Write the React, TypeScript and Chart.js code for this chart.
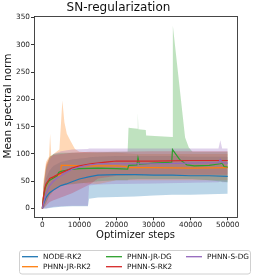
import React, { useEffect, useRef } from "react";
import { Chart, registerables } from "chart.js";

Chart.register(...registerables);

const FONT = "'DejaVu Sans', sans-serif";

// ---- NODE-RK2 (blue)
const nodeSteps = [0, 300, 700, 1000, 1500, 2000, 3000, 4000, 5000, 6500, 8000, 10000, 12500, 15000, 20000, 25000, 30000, 35000, 40000, 45000, 50000];
const nodeMean = [0, 8, 15, 20, 25, 29, 34, 38, 42, 45, 49, 54, 58, 61, 62, 62, 61, 61, 60, 60, 59];
const nodeBandSteps = [0, 300, 1000, 2000, 3000, 5000, 8000, 12300, 12600, 15000, 20000, 25000, 30000, 35000, 40000, 45000, 50000];
const nodeLow = [0, 0, 0, 1, 2, 3, 4, 4, 18, 20, 21, 22, 24, 25, 25, 26, 27];
const nodeHigh = [0, 30, 55, 70, 78, 85, 90, 93, 94, 95, 96, 96, 96, 96, 95, 95, 95];

// ---- PHNN-JR-RK2 (orange)
const jrRkSteps = [0, 300, 700, 1000, 1500, 2000, 3000, 4000, 4900, 5100, 7000, 10000, 15000, 20000, 22500, 23000, 30000, 40000, 50000];
const jrRkMean = [0, 20, 35, 42, 48, 52, 57, 60, 62, 79, 79, 78, 78, 78, 77, 75, 75, 74, 75];
const jrRkBandSteps = [0, 300, 1000, 1800, 2100, 2400, 3000, 4600, 5400, 5950, 6600, 7500, 8800, 10000, 15000, 20000, 25000, 30000, 40000, 50000];
const jrRkHigh = [0, 50, 85, 95, 137, 96, 100, 108, 198, 158, 137, 125, 109, 104, 102, 102, 100, 100, 100, 100];
const jrRkLow = [0, 0, 10, 22, 25, 26, 35, 40, 42, 44, 44, 45, 46, 47, 45, 52, 52, 52, 52, 52];

// ---- PHNN-JR-DG (green)
const jrDgSteps = [0, 300, 700, 1000, 1500, 2000, 3000, 4000, 4400, 5000, 7000, 10000, 15000, 20000, 23000, 23300, 25500, 25800, 26200, 30000, 34900, 35100, 37000, 39000, 41000, 45000, 48000, 48500, 49000, 50000];
const jrDgMean = [0, 20, 35, 42, 48, 52, 56, 60, 66, 68, 71, 73, 74, 73, 72, 79, 80, 93, 81, 83, 85, 108, 90, 80, 78, 79, 82, 83, 77, 76];
const jrDgBandSteps = [0, 300, 1000, 2000, 3000, 5000, 10000, 15000, 20000, 23000, 23250, 25600, 25750, 25900, 27900, 28000, 35000, 35200, 38500, 39500, 40500, 45000, 50000];
const jrDgHigh = [0, 40, 75, 95, 100, 102, 102, 103, 104, 104, 148, 146, 176, 145, 144, 134, 131, 335, 130, 112, 104, 104, 104];
const jrDgLow = [0, 0, 10, 25, 35, 42, 46, 50, 52, 52, 53, 54, 54, 54, 54, 54, 54, 54, 54, 54, 54, 52, 48];

// ---- PHNN-S-RK2 (red)
const sRkSteps = [0, 300, 700, 1000, 1500, 2000, 3000, 4000, 6000, 8000, 10000, 13000, 17000, 20000, 30000, 40000, 50000];
const sRkMean = [0, 22, 38, 45, 50, 55, 58, 62, 68, 74, 78, 82, 85, 87, 87, 88, 88];
const sRkBandSteps = [0, 300, 1000, 2000, 3000, 5000, 8000, 10000, 13000, 15000, 20000, 30000, 40000, 50000];
const sRkHigh = [0, 40, 80, 95, 98, 100, 102, 103, 104, 104, 104, 105, 105, 105];
const sRkLow = [0, 0, 5, 12, 15, 20, 28, 35, 45, 55, 60, 62, 62, 62];

// ---- PHNN-S-DG (purple)
const sDgSteps = [0, 300, 700, 1000, 1500, 2000, 3000, 4000, 6000, 8000, 10000, 12000, 15000, 20000, 30000, 40000, 47500, 48000, 48500, 50000];
const sDgMean = [0, 10, 20, 28, 35, 42, 50, 56, 64, 72, 76, 79, 82, 82, 82, 83, 84, 90, 84, 83];
const sDgBandSteps = [0, 300, 1000, 2000, 3000, 5000, 8000, 12300, 12600, 15000, 20000, 30000, 40000, 47500, 48000, 48500, 50000];
const sDgHigh = [0, 30, 70, 90, 100, 105, 108, 109, 110, 110, 110, 110, 110, 110, 125, 110, 110];
const sDgLow = [0, 0, 0, 2, 3, 4, 5, 5, 42, 44, 45, 46, 47, 48, 50, 48, 48];

const xTicks = [0, 10000, 20000, 30000, 40000, 50000];
const yTicks = [0, 50, 100, 150, 200, 250, 300, 350];

const series = [
  { name: "NODE-RK2", color: "#1f77b4", rgb: "31,119,180", steps: nodeSteps, mean: nodeMean, bSteps: nodeBandSteps, lo: nodeLow, hi: nodeHigh },
  { name: "PHNN-JR-RK2", color: "#ff7f0e", rgb: "255,127,14", steps: jrRkSteps, mean: jrRkMean, bSteps: jrRkBandSteps, lo: jrRkLow, hi: jrRkHigh },
  { name: "PHNN-JR-DG", color: "#2ca02c", rgb: "44,160,44", steps: jrDgSteps, mean: jrDgMean, bSteps: jrDgBandSteps, lo: jrDgLow, hi: jrDgHigh },
  { name: "PHNN-S-RK2", color: "#d62728", rgb: "214,39,40", steps: sRkSteps, mean: sRkMean, bSteps: sRkBandSteps, lo: sRkLow, hi: sRkHigh },
  { name: "PHNN-S-DG", color: "#9467bd", rgb: "148,103,189", steps: sDgSteps, mean: sDgMean, bSteps: sDgBandSteps, lo: sDgLow, hi: sDgHigh },
];

const pts = (xs: number[], ys: number[]) => xs.map((x, i) => ({ x, y: ys[i] }));

const overlay = {
  id: "overlay",
  afterDraw(chart: any) {
    const ctx = chart.ctx;
    const a = chart.chartArea;
    ctx.save();
    // frame
    ctx.strokeStyle = "#333";
    ctx.lineWidth = 0.9;
    ctx.strokeRect(Math.round(a.left) + 0.5, Math.round(a.top) + 0.5, Math.round(a.right - a.left), Math.round(a.bottom - a.top));
    // y label
    ctx.fillStyle = "#111";
    ctx.font = `10.5px ${FONT}`;
    ctx.textAlign = "center";
    ctx.textBaseline = "middle";
    ctx.translate(8, 106);
    ctx.rotate(-Math.PI / 2);
    ctx.fillText("Mean spectral norm", 0, 0);
    ctx.restore();

    // legend
    ctx.save();
    const bx = 19.5, by = 250.5, bw = 231, bh = 23.5, r = 2.5;
    ctx.beginPath();
    ctx.moveTo(bx + r, by);
    ctx.lineTo(bx + bw - r, by);
    ctx.quadraticCurveTo(bx + bw, by, bx + bw, by + r);
    ctx.lineTo(bx + bw, by + bh - r);
    ctx.quadraticCurveTo(bx + bw, by + bh, bx + bw - r, by + bh);
    ctx.lineTo(bx + r, by + bh);
    ctx.quadraticCurveTo(bx, by + bh, bx, by + bh - r);
    ctx.lineTo(bx, by + r);
    ctx.quadraticCurveTo(bx, by, bx + r, by);
    ctx.closePath();
    ctx.fillStyle = "rgba(255,255,255,0.8)";
    ctx.fill();
    ctx.strokeStyle = "#d0d0d0";
    ctx.lineWidth = 1;
    ctx.stroke();
    const cols = [22, 106, 186];
    const rows = [256.7, 266.7];
    const place = [[0, 0], [0, 1], [1, 0], [1, 1], [2, 0]];
    ctx.font = `7.3px ${FONT}`;
    ctx.textAlign = "left";
    ctx.textBaseline = "middle";
    series.forEach((s, i) => {
      const [c, rr] = place[i];
      const x = cols[c], y = rows[rr];
      ctx.strokeStyle = s.color;
      ctx.lineWidth = 1.3;
      ctx.beginPath();
      ctx.moveTo(x, y);
      ctx.lineTo(x + 16, y);
      ctx.stroke();
      ctx.fillStyle = "#111";
      ctx.fillText(s.name, x + 21, y + 0.5);
    });
    ctx.restore();
  },
};

export default function App() {
  const ref = useRef<HTMLCanvasElement>(null);
  useEffect(() => {
    const datasets: any[] = [];
    series.forEach((s, i) => {
      datasets.push({
        label: s.name + " hi",
        data: pts(s.bSteps, s.hi),
        borderWidth: 0,
        pointRadius: 0,
        tension: 0,
        backgroundColor: `rgba(${s.rgb},0.3)`,
        borderColor: "rgba(0,0,0,0)",
        fill: "+1",
        order: 100 - i * 3,
      });
      datasets.push({
        label: s.name + " lo",
        data: pts(s.bSteps, s.lo),
        borderWidth: 0,
        pointRadius: 0,
        tension: 0,
        borderColor: "rgba(0,0,0,0)",
        fill: false,
        order: 99 - i * 3,
      });
      datasets.push({
        label: s.name,
        data: pts(s.steps, s.mean),
        borderColor: s.color,
        borderWidth: 1.2,
        pointRadius: 0,
        tension: 0,
        fill: false,
        order: 10 - i,
      });
    });
    const chart = new Chart(ref.current as HTMLCanvasElement, {
      type: "line",
      data: { datasets },
      options: {
        animation: false,
        responsive: false,
        layout: { padding: { left: 0, right: 17, top: 0, bottom: 37 } },
        plugins: {
          legend: { display: false },
          tooltip: { enabled: false },
          title: {
            display: true,
            text: "SN-regularization",
            color: "#111",
            font: { family: FONT, size: 12, weight: "normal" },
            padding: { top: 1, bottom: 1 },
          },
        },
        scales: {
          x: {
            type: "linear",
            min: -2250,
            max: 52500,
            afterBuildTicks: (scale: any) => {
              scale.ticks = xTicks.map((v) => ({ value: v }));
            },
            ticks: { color: "#222", font: { family: FONT, size: 7.3 }, padding: 0, maxRotation: 0, autoSkip: false, callback: (v: any) => String(v) },
            grid: { display: true, drawOnChartArea: false, drawTicks: true, tickLength: 3, tickColor: "#333" },
            border: { display: false },
            title: { display: true, text: "Optimizer steps", color: "#111", font: { family: FONT, size: 10 }, padding: { top: 0, bottom: 0 } },
          },
          y: {
            type: "linear",
            min: -16,
            max: 352,
            afterBuildTicks: (scale: any) => {
              scale.ticks = yTicks.map((v) => ({ value: v }));
            },
            afterFit: (scale: any) => {
              scale.width = 34;
            },
            ticks: { color: "#222", font: { family: FONT, size: 7.3 }, padding: 1, autoSkip: false, callback: (v: any) => String(v) },
            grid: { display: true, drawOnChartArea: false, drawTicks: true, tickLength: 3, tickColor: "#333" },
            border: { display: false },
          },
        },
      },
      plugins: [overlay],
    } as any);
    return () => chart.destroy();
  }, []);
  return (
    <div style={{ position: "absolute", left: 0, top: 0, width: 254, height: 278, background: "#fff" }}>
      <canvas ref={ref} width={254} height={278} style={{ display: "block" }} />
    </div>
  );
}
